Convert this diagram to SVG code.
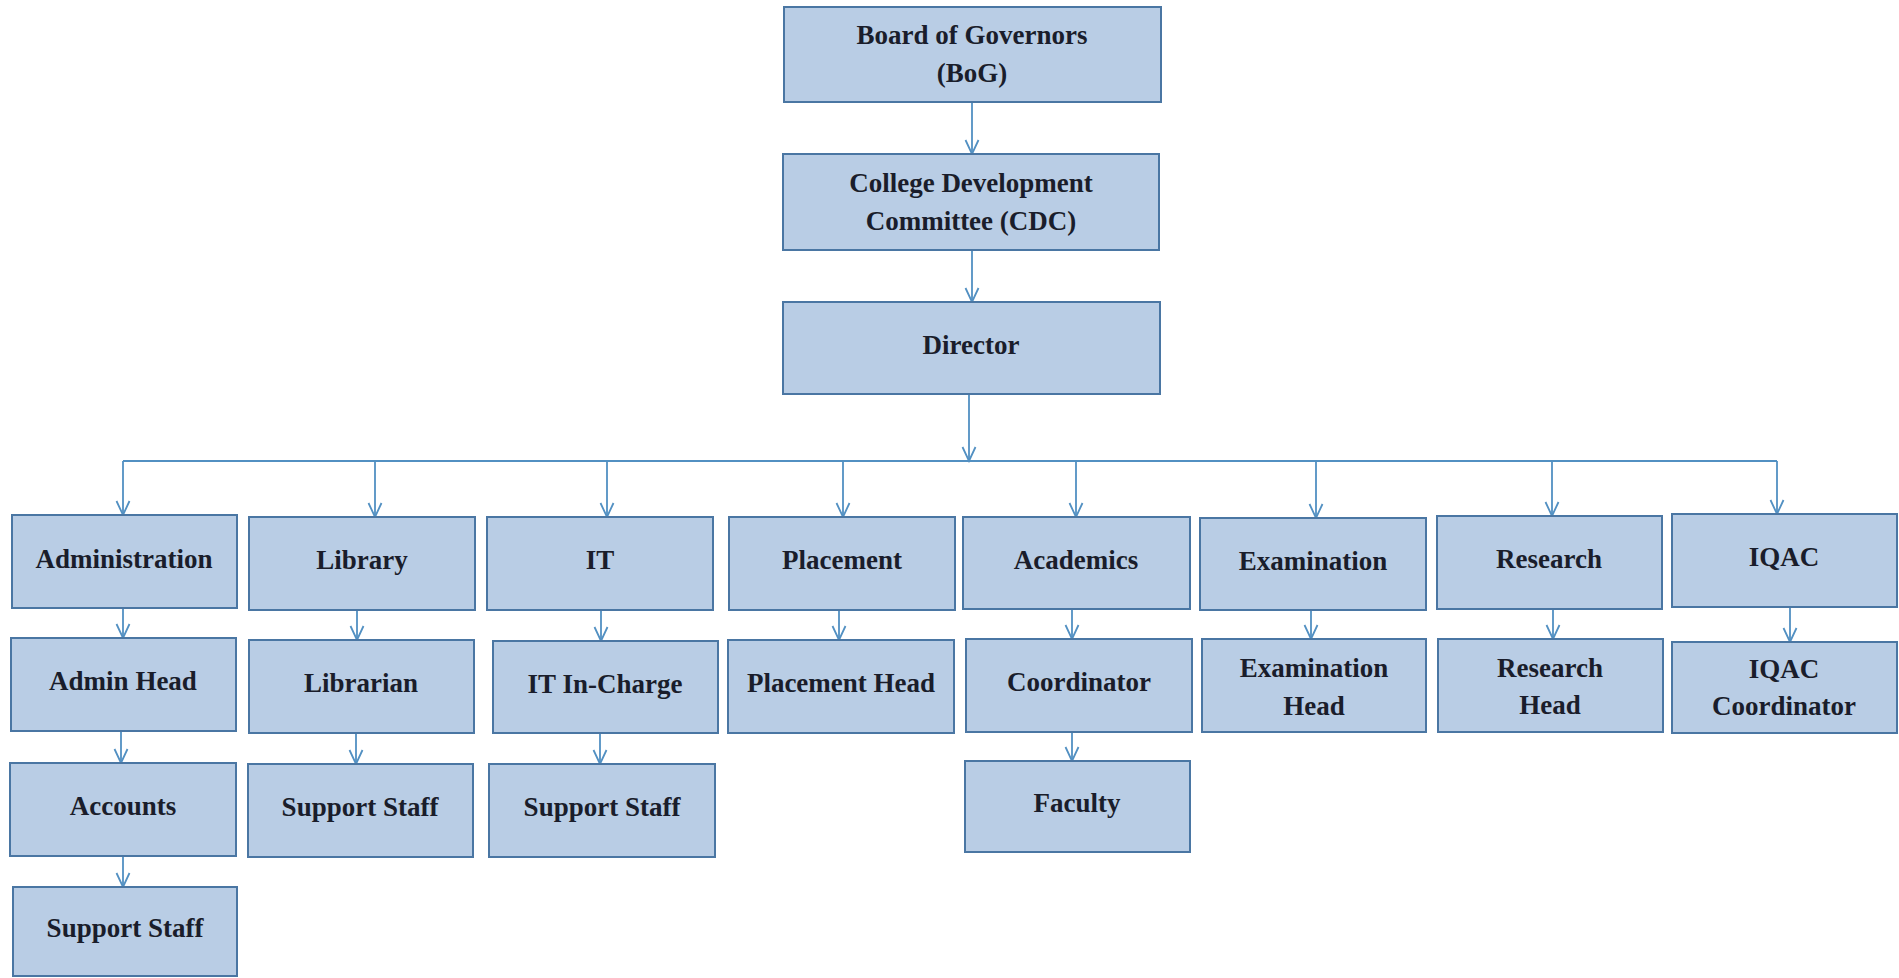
<svg xmlns="http://www.w3.org/2000/svg" width="1899" height="978" viewBox="0 0 1899 978">
<style>
.box{fill:#B9CDE5;stroke:#4A76A3;stroke-width:2}
.t{font-family:"Liberation Serif","Times New Roman",serif;font-weight:bold;font-size:27px;fill:#1a1d2b;text-anchor:middle}
.c{fill:none;stroke:#5290C2;stroke-width:1.8}
</style>
<defs>
<marker id="ah" markerUnits="userSpaceOnUse" markerWidth="18" markerHeight="16" viewBox="0 0 18 16" refX="16" refY="8" orient="auto">
<path d="M2,1.5 L16,8 L2,14.5" fill="none" stroke="#5290C2" stroke-width="1.8"/>
</marker>
</defs>
<rect width="1899" height="978" fill="#ffffff"/>
<g id="connectors">
<line class="c" x1="972" y1="102" x2="972" y2="154" marker-end="url(#ah)"/>
<line class="c" x1="972" y1="250" x2="972" y2="302" marker-end="url(#ah)"/>
<line class="c" x1="969" y1="394" x2="969" y2="461" marker-end="url(#ah)"/>
<line class="c" x1="123" y1="461" x2="1777" y2="461"/>
<line class="c" x1="123" y1="461" x2="123" y2="515" marker-end="url(#ah)"/>
<line class="c" x1="375" y1="461" x2="375" y2="517" marker-end="url(#ah)"/>
<line class="c" x1="607" y1="461" x2="607" y2="517" marker-end="url(#ah)"/>
<line class="c" x1="843" y1="461" x2="843" y2="517" marker-end="url(#ah)"/>
<line class="c" x1="1076" y1="461" x2="1076" y2="517" marker-end="url(#ah)"/>
<line class="c" x1="1316" y1="461" x2="1316" y2="518" marker-end="url(#ah)"/>
<line class="c" x1="1552" y1="461" x2="1552" y2="516" marker-end="url(#ah)"/>
<line class="c" x1="1777" y1="461" x2="1777" y2="514" marker-end="url(#ah)"/>
<line class="c" x1="123" y1="608" x2="123" y2="638" marker-end="url(#ah)"/>
<line class="c" x1="357" y1="610" x2="357" y2="640" marker-end="url(#ah)"/>
<line class="c" x1="601" y1="610" x2="601" y2="641" marker-end="url(#ah)"/>
<line class="c" x1="839" y1="610" x2="839" y2="640" marker-end="url(#ah)"/>
<line class="c" x1="1072" y1="609" x2="1072" y2="639" marker-end="url(#ah)"/>
<line class="c" x1="1311" y1="610" x2="1311" y2="639" marker-end="url(#ah)"/>
<line class="c" x1="1553" y1="609" x2="1553" y2="639" marker-end="url(#ah)"/>
<line class="c" x1="1790" y1="607" x2="1790" y2="642" marker-end="url(#ah)"/>
<line class="c" x1="121" y1="731" x2="121" y2="763" marker-end="url(#ah)"/>
<line class="c" x1="356" y1="733" x2="356" y2="764" marker-end="url(#ah)"/>
<line class="c" x1="600" y1="733" x2="600" y2="764" marker-end="url(#ah)"/>
<line class="c" x1="1072" y1="732" x2="1072" y2="761" marker-end="url(#ah)"/>
<line class="c" x1="123" y1="856" x2="123" y2="887" marker-end="url(#ah)"/>
</g>
<g id="bog"><rect class="box" x="784" y="7" width="377" height="95"/><text class="t" x="972" y="44">Board of Governors</text><text class="t" x="972" y="82">(BoG)</text></g>
<g id="cdc"><rect class="box" x="783" y="154" width="376" height="96"/><text class="t" x="971" y="192">College Development</text><text class="t" x="971" y="230">Committee (CDC)</text></g>
<g id="director"><rect class="box" x="783" y="302" width="377" height="92"/><text class="t" x="971" y="354">Director</text></g>

<g id="administration"><rect class="box" x="12" y="515" width="225" height="93"/><text class="t" x="124" y="568">Administration</text></g>
<g id="library"><rect class="box" x="249" y="517" width="226" height="93"/><text class="t" x="362" y="569">Library</text></g>
<g id="it"><rect class="box" x="487" y="517" width="226" height="93"/><text class="t" x="600" y="569">IT</text></g>
<g id="placement"><rect class="box" x="729" y="517" width="226" height="93"/><text class="t" x="842" y="569">Placement</text></g>
<g id="academics"><rect class="box" x="963" y="517" width="227" height="92"/><text class="t" x="1076" y="569">Academics</text></g>
<g id="examination"><rect class="box" x="1200" y="518" width="226" height="92"/><text class="t" x="1313" y="570">Examination</text></g>
<g id="research"><rect class="box" x="1437" y="516" width="225" height="93"/><text class="t" x="1549" y="568">Research</text></g>
<g id="iqac"><rect class="box" x="1672" y="514" width="225" height="93"/><text class="t" x="1784" y="566">IQAC</text></g>

<g id="admin-head"><rect class="box" x="11" y="638" width="225" height="93"/><text class="t" x="123" y="690">Admin Head</text></g>
<g id="librarian"><rect class="box" x="249" y="640" width="225" height="93"/><text class="t" x="361" y="692">Librarian</text></g>
<g id="it-incharge"><rect class="box" x="493" y="641" width="225" height="92"/><text class="t" x="605" y="693">IT In-Charge</text></g>
<g id="placement-head"><rect class="box" x="728" y="640" width="226" height="93"/><text class="t" x="841" y="692">Placement Head</text></g>
<g id="coordinator"><rect class="box" x="966" y="639" width="226" height="93"/><text class="t" x="1079" y="691">Coordinator</text></g>
<g id="examination-head"><rect class="box" x="1202" y="639" width="224" height="93"/><text class="t" x="1314" y="677">Examination</text><text class="t" x="1314" y="715">Head</text></g>
<g id="research-head"><rect class="box" x="1438" y="639" width="225" height="93"/><text class="t" x="1550" y="677">Research</text><text class="t" x="1550" y="714">Head</text></g>
<g id="iqac-coordinator"><rect class="box" x="1672" y="642" width="225" height="91"/><text class="t" x="1784" y="678">IQAC</text><text class="t" x="1784" y="715">Coordinator</text></g>

<g id="accounts"><rect class="box" x="10" y="763" width="226" height="93"/><text class="t" x="123" y="815">Accounts</text></g>
<g id="lib-support"><rect class="box" x="248" y="764" width="225" height="93"/><text class="t" x="360" y="816">Support Staff</text></g>
<g id="it-support"><rect class="box" x="489" y="764" width="226" height="93"/><text class="t" x="602" y="816">Support Staff</text></g>
<g id="faculty"><rect class="box" x="965" y="761" width="225" height="91"/><text class="t" x="1077" y="812">Faculty</text></g>

<g id="admin-support"><rect class="box" x="13" y="887" width="224" height="89"/><text class="t" x="125" y="937">Support Staff</text></g>
</svg>
